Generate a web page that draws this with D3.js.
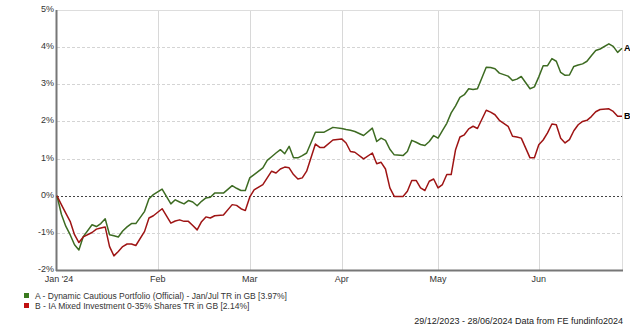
<!DOCTYPE html>
<html>
<head>
<meta charset="utf-8">
<style>
  body { margin: 0; background: #fff; }
  text { font-family: "Liberation Sans", Arial, sans-serif; }
</style>
</head>
<body>
<svg id="chart" width="630" height="327"></svg>
<script src="https://d3js.org/d3.v7.min.js"></script>
<script>
// sampled trading days (x axis runs on weekdays, not calendar days)
const dates = ["2024-01-01","2024-01-02","2024-01-03","2024-01-04","2024-01-05","2024-01-08","2024-01-09","2024-01-11","2024-01-12","2024-01-15",
  "2024-01-16","2024-01-17","2024-01-18","2024-01-19","2024-01-22","2024-01-23","2024-01-24","2024-01-25","2024-01-29","2024-01-30",
  "2024-01-31","2024-02-02","2024-02-06","2024-02-07","2024-02-08","2024-02-09","2024-02-12","2024-02-13","2024-02-14","2024-02-15",
  "2024-02-16","2024-02-19","2024-02-20","2024-02-22","2024-02-26","2024-02-27","2024-02-28","2024-02-29","2024-03-01","2024-03-04",
  "2024-03-06","2024-03-07","2024-03-08","2024-03-11","2024-03-12","2024-03-13","2024-03-14","2024-03-15","2024-03-18","2024-03-19",
  "2024-03-20","2024-03-22","2024-03-25","2024-03-26","2024-03-28","2024-04-01","2024-04-02","2024-04-03","2024-04-04","2024-04-08",
  "2024-04-10","2024-04-11","2024-04-12","2024-04-15","2024-04-16","2024-04-17","2024-04-19","2024-04-22","2024-04-23","2024-04-24",
  "2024-04-25","2024-04-26","2024-04-29","2024-04-30","2024-05-01","2024-05-02","2024-05-03","2024-05-06","2024-05-07","2024-05-08",
  "2024-05-09","2024-05-10","2024-05-13","2024-05-14","2024-05-16","2024-05-17","2024-05-20","2024-05-21","2024-05-23","2024-05-24",
  "2024-05-27","2024-05-28","2024-05-30","2024-05-31","2024-06-03","2024-06-04","2024-06-05","2024-06-06","2024-06-07","2024-06-10",
  "2024-06-11","2024-06-12","2024-06-13","2024-06-14","2024-06-17","2024-06-18","2024-06-19","2024-06-20","2024-06-21","2024-06-25",
  "2024-06-26","2024-06-27","2024-06-28"]

const seriesA = [0,-0.50,-0.82,-1.05,-1.32,-1.46,-1.10,-0.78,-0.83,-0.75,
  -0.62,-1.05,-1.08,-1.11,-0.95,-0.84,-0.75,-0.75,-0.42,-0.08,
  0.03,0.18,-0.22,-0.11,-0.17,-0.22,-0.13,-0.17,-0.27,-0.15,
  -0.06,-0.04,0.07,0.07,0.27,0.20,0.14,0.14,0.48,0.57,
  0.75,0.95,1.05,1.15,1.24,1.13,1.33,1.02,1.02,1.08,
  1.15,1.71,1.71,1.71,1.84,1.81,1.78,1.76,1.73,1.62,
  1.82,1.46,1.55,1.49,1.25,1.10,1.08,1.19,1.49,1.44,
  1.38,1.35,1.46,1.62,1.55,1.75,1.95,2.23,2.42,2.65,
  2.72,2.88,2.86,2.88,3.46,3.45,3.42,3.30,3.22,3.10,
  3.14,3.21,2.88,2.93,3.20,3.50,3.50,3.69,3.62,3.32,
  3.24,3.25,3.48,3.52,3.55,3.62,3.77,3.91,3.95,4.09,
  4.02,3.86,3.97]

const seriesB = [0,-0.24,-0.47,-0.69,-1.05,-1.26,-1.11,-0.99,-0.90,-0.87,
  -0.84,-1.37,-1.62,-1.50,-1.37,-1.30,-1.30,-1.34,-0.96,-0.60,
  -0.54,-0.35,-0.74,-0.68,-0.65,-0.69,-0.69,-0.80,-0.92,-0.70,
  -0.57,-0.60,-0.54,-0.52,-0.24,-0.26,-0.35,-0.40,-0.04,0.16,
  0.30,0.48,0.66,0.61,0.72,0.77,0.75,0.57,0.45,0.48,
  0.66,1.39,1.30,1.30,1.50,1.53,1.42,1.19,1.17,0.99,
  1.15,0.86,0.90,0.72,0.21,-0.02,-0.02,0.12,0.41,0.41,
  0.21,0.14,0.39,0.45,0.21,0.30,0.57,0.57,1.24,1.58,
  1.64,1.80,1.87,1.81,2.30,2.25,2.18,2.03,1.87,1.60,
  1.58,1.55,1.02,1.02,1.37,1.50,1.69,1.93,1.91,1.55,
  1.42,1.51,1.75,1.91,2.00,2.03,2.13,2.26,2.32,2.34,
  2.27,2.14,2.14]

const yTicks = [-2,-1,0,1,2,3,4,5]
const monthTicks = ["2024-01-01","2024-02-01","2024-03-01","2024-04-01","2024-05-01","2024-06-03"]
const monthLabels = ["Jan '24","Feb","Mar","Apr","May","Jun"]
const legendNames = ["A - Dynamic Cautious Portfolio (Official) - Jan/Jul TR in GB [3.97%]",
  "B - IA Mixed Investment 0-35% Shares TR in GB [2.14%]"]
const footer = "29/12/2023 - 28/06/2024 Data from FE fundinfo2024"

const parse = d3.timeParse("%Y-%m-%d")
const start = parse("2024-01-01"), end = parse("2024-06-28")
// every weekday in the period, used to turn a date into a position
const weekdays = d3.timeDay.range(start, d3.timeDay.offset(end, 1)).filter(d => d.getDay() % 6 !== 0)
const dayIndex = s => d3.bisectLeft(weekdays, parse(s))

const plotL = 57, plotR = 622, plotT = 10, plotB = 270
const x = d3.scaleLinear().domain([0, weekdays.length - 1]).range([plotL, plotR])
const y = d3.scaleLinear().domain([-2, 5]).range([plotB, plotT])

const svg = d3.select("#chart")

// grid
svg.append("g").selectAll("line").data(yTicks.filter(v => v !== 0 && v !== 5 && v !== -2)).enter()
  .append("line")
  .attr("x1", plotL).attr("x2", plotR)
  .attr("y1", d => Math.round(y(d)) + 0.5).attr("y2", d => Math.round(y(d)) + 0.5)
  .attr("stroke", "#d4d4d4").attr("stroke-dasharray", "3,2")

svg.append("g").selectAll("line").data(monthTicks.slice(1)).enter()
  .append("line")
  .attr("x1", d => Math.round(x(dayIndex(d))) + 0.5).attr("x2", d => Math.round(x(dayIndex(d))) + 0.5)
  .attr("y1", plotT).attr("y2", plotB)
  .attr("stroke", "#d8d8d8")

// frame
svg.append("line").attr("x1", plotL).attr("x2", plotR).attr("y1", plotT + 0.5).attr("y2", plotT + 0.5).attr("stroke", "#ddd")
svg.append("line").attr("x1", plotR + 0.5).attr("x2", plotR + 0.5).attr("y1", plotT).attr("y2", plotB).attr("stroke", "#ddd")

// zero line
svg.append("line").attr("x1", plotL).attr("x2", plotR)
  .attr("y1", Math.round(y(0)) + 0.5).attr("y2", Math.round(y(0)) + 0.5)
  .attr("stroke", "#444").attr("stroke-dasharray", "2,2")

// axes
svg.append("line").attr("x1", plotL - 0.5).attr("x2", plotL - 0.5).attr("y1", plotT).attr("y2", plotB + 1)
  .attr("stroke", "#777").attr("stroke-width", 2)
svg.append("line").attr("x1", plotL - 1).attr("x2", plotR + 1).attr("y1", plotB + 0.5).attr("y2", plotB + 0.5)
  .attr("stroke", "#777").attr("stroke-width", 2)

svg.append("g").selectAll("text").data(yTicks).enter()
  .append("text")
  .attr("x", plotL - 3).attr("y", d => y(d) + 2)
  .attr("text-anchor", "end").attr("font-size", 9).attr("fill", "#333")
  .text(d => d + "%")

svg.append("g").selectAll("text").data(monthTicks).enter()
  .append("text")
  .attr("x", d => x(dayIndex(d)) + (d === monthTicks[0] ? 2 : 0)).attr("y", plotB + 12)
  .attr("text-anchor", "middle").attr("font-size", 9).attr("fill", "#333")
  .text((d, i) => monthLabels[i])

// lines
const line = vals => d3.line()
  .x((d, i) => x(dayIndex(dates[i])))
  .y(d => y(d))(vals)

svg.append("path").attr("d", line(seriesA)).attr("fill", "none")
  .attr("stroke", "#3d6b22").attr("stroke-width", 1.5).attr("stroke-linejoin", "round")
svg.append("path").attr("d", line(seriesB)).attr("fill", "none")
  .attr("stroke", "#9e1414").attr("stroke-width", 1.5).attr("stroke-linejoin", "round")

// end labels
const last = dates.length - 1
svg.append("text").attr("x", x(dayIndex(dates[last])) + 2).attr("y", y(seriesA[last]) + 3)
  .attr("font-size", 9).attr("font-weight", "bold").text("A")
svg.append("text").attr("x", x(dayIndex(dates[last])) + 2).attr("y", y(seriesB[last]) + 3)
  .attr("font-size", 9).attr("font-weight", "bold").text("B")

// legend
const legendColors = ["#3a7a1e", "#c01010"]
const legend = svg.append("g").selectAll("g").data(legendNames).enter()
  .append("g").attr("transform", (d, i) => `translate(24,${293 + i * 10})`)
legend.append("rect").attr("width", 5).attr("height", 5).attr("fill", (d, i) => legendColors[i])
legend.append("text").attr("x", 11).attr("y", 5.5).attr("font-size", 8.5).attr("fill", "#333").text(d => d)

svg.append("text").attr("x", plotR + 1).attr("y", 324).attr("text-anchor", "end")
  .attr("font-size", 9).attr("fill", "#222").text(footer)
</script>
</body>
</html>
